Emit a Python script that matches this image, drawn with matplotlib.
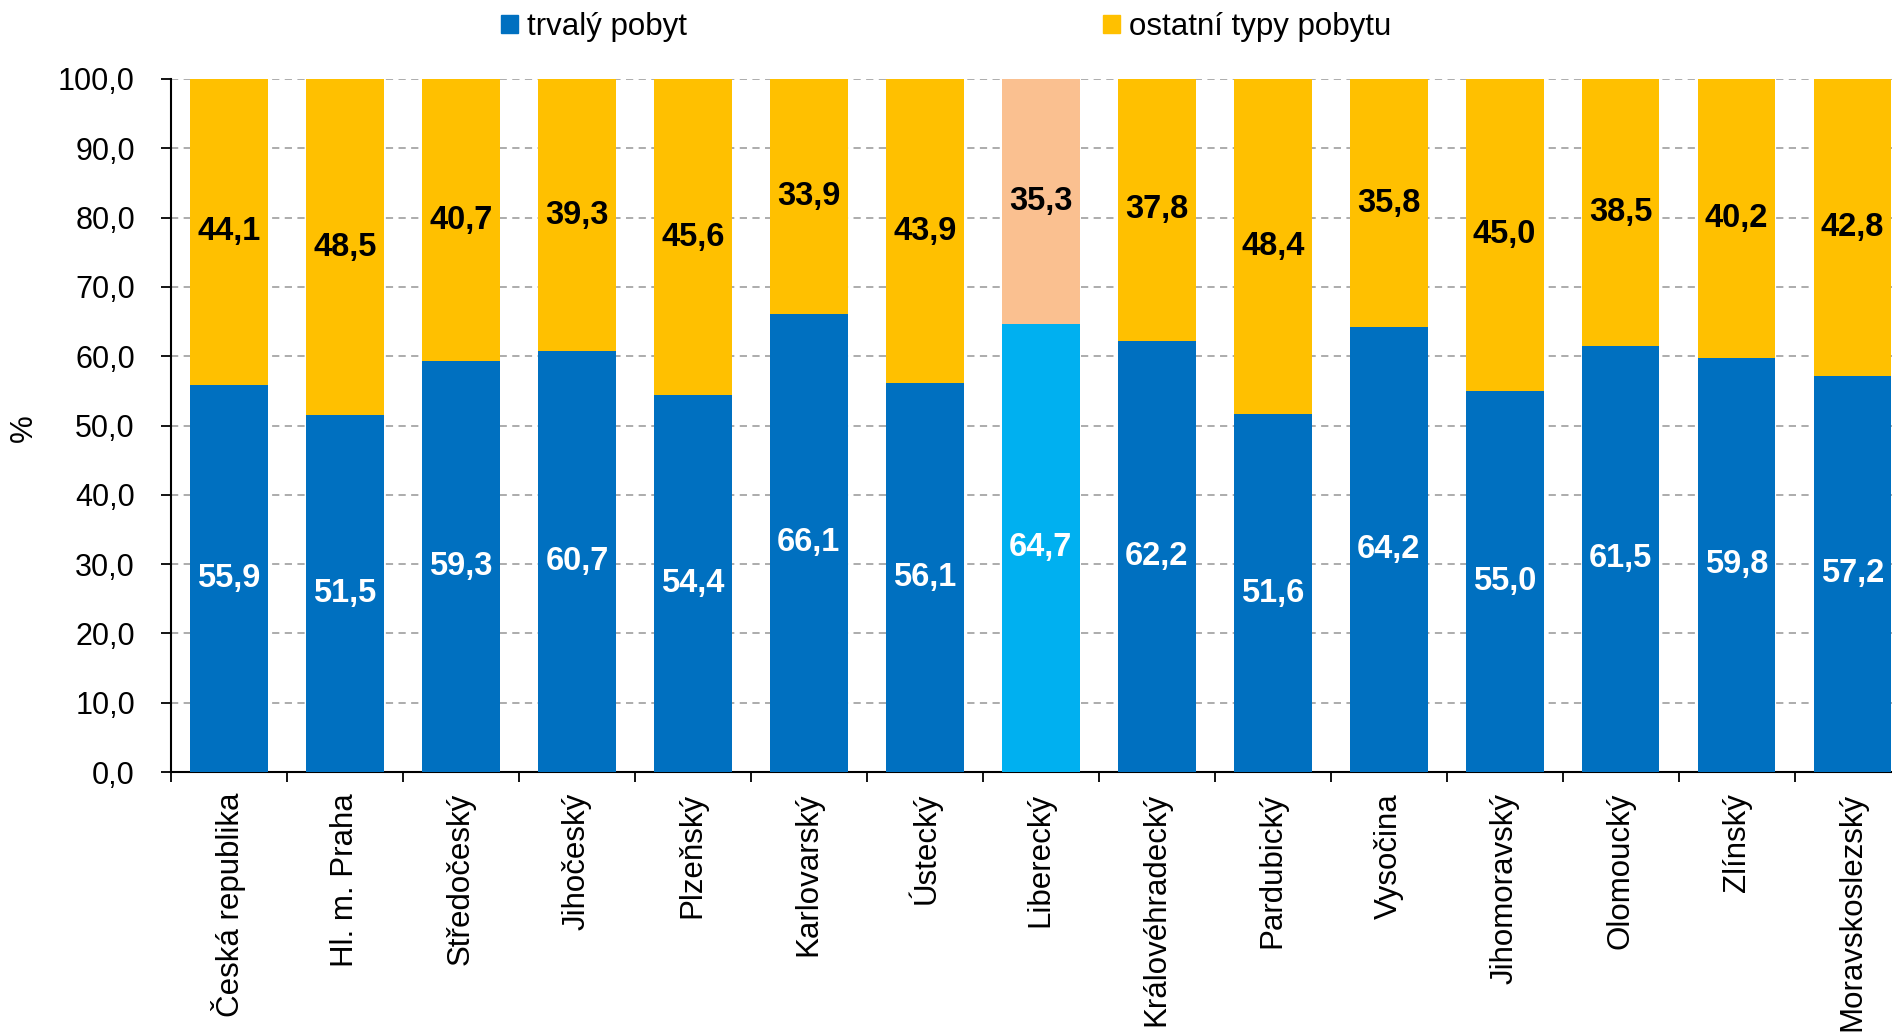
import matplotlib.pyplot as plt
from matplotlib.patches import Patch
import numpy as np

plt.rcParams['font.family'] = ['Liberation Sans', 'DejaVu Sans']

# data
regions = ['Česká republika', 'Hl. m. Praha', 'Středočeský', 'Jihočeský', 'Plzeňský',
           'Karlovarský', 'Ústecký', 'Liberecký', 'Královéhradecký', 'Pardubický',
           'Vysočina', 'Jihomoravský', 'Olomoucký', 'Zlínský', 'Moravskoslezský']
trvaly = [55.9, 51.5, 59.3, 60.7, 54.4, 66.1, 56.1, 64.7, 62.2, 51.6, 64.2, 55.0, 61.5, 59.8, 57.2]
ostatni = [44.1, 48.5, 40.7, 39.3, 45.6, 33.9, 43.9, 35.3, 37.8, 48.4, 35.8, 45.0, 38.5, 40.2, 42.8]
highlight = 'Liberecký'

blue, yellow = '#0070C0', '#FFC000'
blue_hl, yellow_hl = '#00B0F0', '#FAC090'

fig = plt.figure(figsize=(18.92, 10.35), dpi=100)
ax = fig.add_axes([171 / 1892, 1 - 772 / 1035, 1 - 171 / 1892, (772 - 79) / 1035])

x = np.arange(len(regions))
c1 = [blue_hl if r == highlight else blue for r in regions]
c2 = [yellow_hl if r == highlight else yellow for r in regions]
b1 = ax.bar(x, trvaly, width=0.67, color=c1, zorder=3)
b2 = ax.bar(x, ostatni, width=0.67, bottom=trvaly, color=c2, zorder=3)

fmt = lambda v: f'{v:.1f}'.replace('.', ',')
ax.bar_label(b1, labels=[fmt(v) for v in trvaly], label_type='center',
             color='white', fontsize=23.5, fontweight='bold', zorder=4)
ax.bar_label(b2, labels=[fmt(v) for v in ostatni], label_type='center',
             color='black', fontsize=23.5, fontweight='bold', zorder=4)

ax.set_xlim(-0.5, 14.34)
ax.set_ylim(0, 100)
ax.set_yticks(np.arange(0, 101, 10))
ax.set_yticklabels([fmt(v) for v in np.arange(0, 101, 10)], fontsize=22)
ax.yaxis.grid(True, linestyle=(0, (4, 3)), color='#A6A6A6', linewidth=1.3, zorder=0)
ax.tick_params(axis='y', length=7, width=1.3, pad=19)

# category boundaries as major ticks, names on minor ticks
ax.set_xticks(np.arange(-0.5, 14.5, 1))
ax.set_xticklabels([])
ax.set_xticks(x, minor=True)
ax.set_xticklabels(regions, minor=True, rotation=90, fontsize=22.5, va='top', ha='center')
ax.tick_params(axis='x', which='major', length=7, width=1.3, direction='out')
ax.tick_params(axis='x', which='minor', length=0, pad=15)

for s in ['top', 'right']:
    ax.spines[s].set_visible(False)
for s in ['left', 'bottom']:
    ax.spines[s].set_linewidth(1.5)

fig.text(24 / 1892, 1 - 428 / 1035, '%', rotation=90, fontsize=22.5, ha='center', va='center')

handles = [Patch(color=blue), Patch(color=yellow)]
fig.legend(handles, ['trvalý pobyt', 'ostatní typy pobytu'], ncol=2, frameon=False,
           fontsize=22.5, loc='center', bbox_to_anchor=(0.5, 1 - 27 / 1035),
           handlelength=0.55, handleheight=0.55, handletextpad=0.3, columnspacing=13.3)

fig.savefig('out.png', dpi=100)
